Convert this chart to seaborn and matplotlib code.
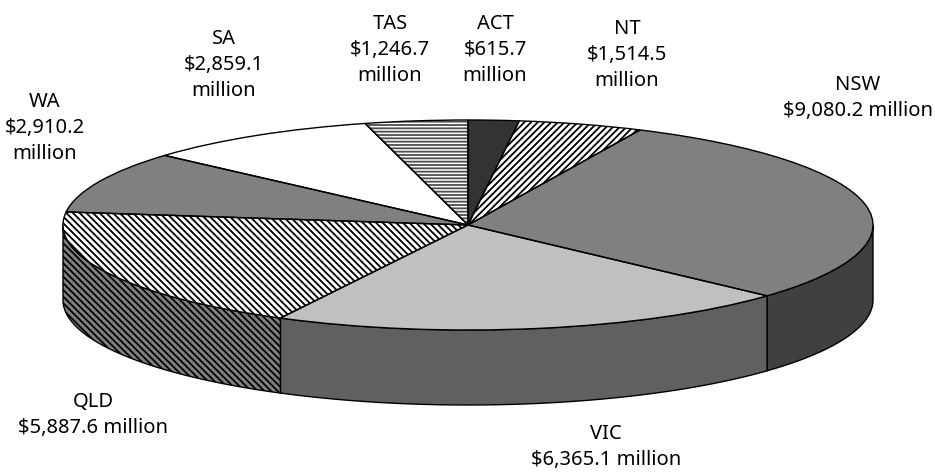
import numpy as np
import matplotlib
matplotlib.use('Agg')
import matplotlib.pyplot as plt
import seaborn as sns

states = ['ACT', 'NT', 'NSW', 'VIC', 'QLD', 'WA', 'SA', 'TAS']
values = [615.7, 1514.5, 9080.2, 6365.1, 5887.6, 2910.2, 2859.1, 1246.7]
top_colors = ['#333333', '#ffffff', '#808080', '#c0c0c0', '#ffffff', '#808080', '#ffffff', '#ffffff']
side_colors = ['#1a1a1a', '#808080', '#404040', '#606060', '#808080', '#404040', '#808080', '#808080']
hatches = ['', '/////', '', '', '\\\\\\\\\\', '', '', '-----']
hatch_colors = ['black', 'black', 'black', 'black', 'black', 'black', 'black', '#4d4d4d']
# label centre in px (x, y of the middle of the block)
label_xy = [(495, 50), (627, 55), (858, 98), (606, 447), (93, 415), (45, 128), (224, 65), (390, 50)]
wrapped = [True, True, False, False, False, True, True, True]

W, H = 935, 475
cx, cy, rx, ry, depth = 468, 225, 405, 105, 75

sns.set_theme(style='white')
plt.rcParams['font.family'] = ['Noto Sans', 'DejaVu Sans']
plt.rcParams['hatch.linewidth'] = 1.3

fig = plt.figure(figsize=(W / 100, H / 100), dpi=100)
ax = fig.add_axes([0, 0, 1, 1])

# filled and hatched faces first, black outlines on top
wedges, _ = ax.pie(values, startangle=90, counterclock=False, colors=top_colors,
                   wedgeprops={'linewidth': 0, 'zorder': 5})
for w, h, c in zip(wedges, hatches, hatch_colors):
    w.set_hatch(h)
    w.set_edgecolor(c)
ax.pie(values, startangle=90, counterclock=False,
       wedgeprops={'fill': False, 'edgecolor': 'black', 'linewidth': 1.0, 'zorder': 6})

ax.set_aspect('auto')
ax.set_xlim(-cx / rx, (W - cx) / rx)
ax.set_ylim(-(H - cy) / ry, cy / ry)
ax.axis('off')

# side wall, only the front half of the disc is seen
d = depth / ry
edges = np.concatenate([[0], np.cumsum(values)]) / np.sum(values) * 360
for i in range(len(values)):
    a0, a1 = max(edges[i], 90), min(edges[i + 1], 270)
    if a1 <= a0:
        continue
    t = np.radians(np.linspace(a0, a1, 120))
    ax.fill_between(np.sin(t), np.cos(t), np.cos(t) - d, facecolor=side_colors[i],
                    edgecolor='black', linewidth=1.0, hatch=hatches[i], zorder=2)

for s, v, (x, y), wrap in zip(states, values, label_xy, wrapped):
    money = f'${v:,.1f} million'
    if wrap:
        money = money.replace(' ', '\n')
    fig.text(x / W, 1 - y / H, f'{s}\n{money}', ha='center', va='center', fontsize=14.5,
             linespacing=1.38, color='black')

fig.savefig('out.png', dpi=100, facecolor='white')
